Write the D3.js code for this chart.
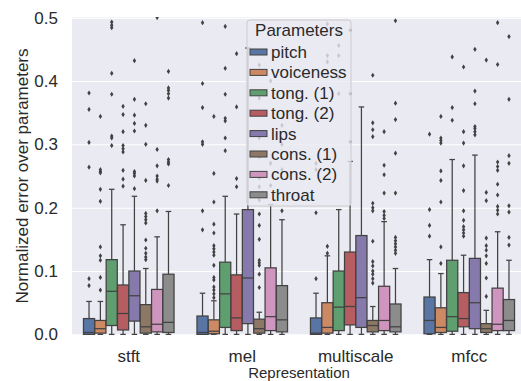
<!DOCTYPE html>
<html><head><meta charset="utf-8">
<script src="https://cdn.jsdelivr.net/npm/d3@7"></script>
<style>body{margin:0;background:#fff}svg{display:block;font-family:"Liberation Sans",Arial,sans-serif}</style>
</head><body><svg id="c" width="521" height="381"></svg>
<script>
const categories = ["stft", "mel", "multiscale", "mfcc"];
const params = ["pitch", "voiceness", "tong. (1)", "tong. (2)", "lips", "cons. (1)", "cons. (2)", "throat"];
const colors = ["#5975A4", "#CC8963", "#5F9E6E", "#B55D60", "#857AAB", "#8D7866", "#D095BF", "#8C8C8C"];
const yTicks = [0.0, 0.1, 0.2, 0.3, 0.4, 0.5];

// rows = representation, columns = parameter
const whiskerLo = [
  [0, 0, 0, 0, 0, 0, 0, 0],
  [0, 0, 0, 0, 0, 0, 0, 0],
  [0, 0, 0, 0, 0, 0, 0, 0],
  [0, 0, 0, 0, 0, 0, 0, 0]
];
const q1 = [
  [0.000, 0.002, 0.014, 0.007, 0.021, 0.002, 0.004, 0.003],
  [0.000, 0.001, 0.011, 0.006, 0.017, 0.002, 0.006, 0.004],
  [0.000, 0.002, 0.006, 0.015, 0.011, 0.004, 0.006, 0.004],
  [0.001, 0.003, 0.005, 0.012, 0.009, 0.003, 0.006, 0.006]
];
const median = [
  [0.003, 0.009, 0.068, 0.033, 0.061, 0.012, 0.016, 0.019],
  [0.003, 0.005, 0.064, 0.026, 0.089, 0.009, 0.028, 0.023],
  [0.002, 0.011, 0.043, 0.044, 0.058, 0.014, 0.022, 0.012],
  [0.022, 0.011, 0.028, 0.025, 0.050, 0.009, 0.016, 0.022]
];
const q3 = [
  [0.025, 0.022, 0.118, 0.078, 0.100, 0.047, 0.071, 0.095],
  [0.029, 0.023, 0.114, 0.094, 0.197, 0.024, 0.105, 0.077],
  [0.026, 0.050, 0.100, 0.130, 0.156, 0.022, 0.076, 0.048],
  [0.059, 0.042, 0.117, 0.066, 0.120, 0.017, 0.073, 0.055]
];
const whiskerHi = [
  [0.052, 0.052, 0.229, 0.173, 0.218, 0.104, 0.154, 0.194],
  [0.065, 0.053, 0.218, 0.190, 0.452, 0.035, 0.205, 0.181],
  [0.065, 0.124, 0.197, 0.273, 0.359, 0.044, 0.178, 0.104],
  [0.118, 0.096, 0.276, 0.125, 0.283, 0.038, 0.162, 0.117]
];
const outliersStft = [
  [0.077, 0.088, 0.264, 0.303, 0.355, 0.381],
  [0.070, 0.090, 0.117, 0.124, 0.138, 0.210, 0.229, 0.255, 0.257, 0.260, 0.344],
  [0.298, 0.310, 0.313, 0.379, 0.412, 0.484, 0.488, 0.493],
  [0.234, 0.245, 0.259, 0.288, 0.293, 0.298, 0.320, 0.347, 0.360],
  [0.230, 0.250, 0.254, 0.257, 0.321, 0.333, 0.346, 0.371, 0.432],
  [0.118, 0.122, 0.128, 0.136, 0.149, 0.176, 0.181, 0.186, 0.191, 0.243, 0.300, 0.330, 0.364],
  [0.195, 0.242, 0.245, 0.250, 0.266, 0.292, 0.500],
  [0.235, 0.269, 0.272, 0.276, 0.373, 0.380, 0.385, 0.389, 0.415]
];
const outliersMel = [
  [0.165, 0.195, 0.300, 0.304, 0.358, 0.396, 0.492],
  [0.058, 0.064, 0.070, 0.075, 0.086, 0.090, 0.109, 0.125, 0.130, 0.135, 0.140, 0.160, 0.174, 0.209, 0.254, 0.344],
  [0.290, 0.310, 0.337, 0.341, 0.379, 0.420, 0.486],
  [0.233, 0.246, 0.359, 0.443],
  [],
  [0.074, 0.095, 0.109, 0.113, 0.117, 0.150, 0.172, 0.190, 0.212, 0.233, 0.247, 0.280, 0.310, 0.373, 0.425],
  [0.235, 0.270, 0.400],
  [0.195, 0.260, 0.300, 0.330]
];
const outliersMultiscale = [
  [0.088, 0.192, 0.260, 0.270],
  [0.128, 0.139, 0.430, 0.440, 0.490],
  [0.380, 0.406, 0.440, 0.456, 0.475],
  [0.304, 0.380, 0.480],
  [],
  [0.081, 0.088, 0.095, 0.100, 0.108, 0.115, 0.147, 0.195, 0.200, 0.207, 0.312, 0.323, 0.334, 0.409],
  [0.183, 0.188, 0.194, 0.223, 0.252, 0.267, 0.320],
  [0.128, 0.133, 0.138, 0.143, 0.148, 0.153, 0.223, 0.286, 0.339, 0.365, 0.495]
];
const outliersMfcc = [
  [0.155, 0.172, 0.197, 0.316],
  [0.112, 0.138, 0.209, 0.243, 0.258, 0.302, 0.306, 0.310, 0.344],
  [0.338, 0.358, 0.438],
  [0.155, 0.160, 0.165, 0.170, 0.180, 0.195, 0.227, 0.266, 0.302, 0.320, 0.422],
  [0.315, 0.320, 0.325, 0.328, 0.364, 0.384, 0.450],
  [0.060, 0.089, 0.112, 0.124, 0.133, 0.140, 0.152, 0.211, 0.224, 0.433],
  [0.190, 0.196, 0.202, 0.220, 0.237, 0.259, 0.265, 0.272, 0.426, 0.492],
  [0.141, 0.153, 0.193, 0.203, 0.270, 0.282, 0.371, 0.470]
];
const outliers = [outliersStft, outliersMel, outliersMultiscale, outliersMfcc];

const svg = d3.select("#c");
const m = {left: 72, top: 17, right: 526, bottom: 335};
const x = d3.scaleBand().domain(categories).range([m.left, m.right]).padding(0);
const bw = x.bandwidth();
const hue = d3.scaleBand().domain(params).range([-0.4 * bw, 0.4 * bw]).padding(0);
const y = d3.scaleLinear().domain([0, 0.5]).range([m.bottom - 0.6, m.top + 0.6]);
const lineC = "#424242";
const txtC = "#2a2a2a";
const FF = "Liberation Sans, Arial, sans-serif";

svg.append("defs").append("clipPath").attr("id", "clip")
  .append("rect").attr("x", m.left).attr("y", m.top).attr("width", m.right - m.left).attr("height", m.bottom - m.top);

svg.append("rect").attr("x", m.left).attr("y", m.top).attr("width", m.right - m.left).attr("height", m.bottom - m.top).attr("fill", "#EAEAF2");

// grid + y ticks
const yAxis = d3.axisLeft(y).tickValues(yTicks).tickFormat(d3.format(".1f")).tickSize(-(m.right - m.left)).tickPadding(14);
const ga = svg.append("g").attr("transform", `translate(${m.left},0)`).call(yAxis);
ga.select(".domain").remove();
ga.selectAll(".tick line").attr("stroke", "#fff").attr("stroke-width", 1.1);
ga.selectAll(".tick text").attr("fill", txtC).attr("font-size", 17).attr("font-family", FF);

const xAxis = d3.axisBottom(x).tickSize(0).tickPadding(15);
const gx = svg.append("g").attr("transform", `translate(0,${m.bottom})`).call(xAxis);
gx.select(".domain").remove();
gx.selectAll(".tick text").attr("fill", txtC).attr("font-size", 17).attr("font-family", FF);

svg.append("text").attr("x", (m.left + m.right) / 2).attr("y", 378).attr("text-anchor", "middle")
  .attr("font-size", 15).attr("fill", txtC).text("Representation");
svg.append("text").attr("transform", `translate(22,${(m.top + m.bottom) / 2}) rotate(-90)`).attr("text-anchor", "middle")
  .attr("dy", "0.35em").attr("font-size", 17).attr("fill", txtC).text("Normalized error over parameters");

const plot = svg.append("g").attr("clip-path", "url(#clip)");
const boxW = hue.bandwidth() * 0.98;
const capW = boxW / 2;
const lw = 1.25;

categories.forEach((cat, ci) => {
  params.forEach((p, pi) => {
    const cx = x(cat) + bw / 2 + hue(p) + hue.bandwidth() / 2;
    const g = plot.append("g");
    g.append("line").attr("x1", cx).attr("x2", cx).attr("y1", y(q3[ci][pi])).attr("y2", y(whiskerHi[ci][pi])).attr("stroke", lineC).attr("stroke-width", lw);
    g.append("line").attr("x1", cx).attr("x2", cx).attr("y1", y(q1[ci][pi])).attr("y2", y(whiskerLo[ci][pi])).attr("stroke", lineC).attr("stroke-width", lw);
    g.append("line").attr("x1", cx - capW / 2).attr("x2", cx + capW / 2).attr("y1", y(whiskerHi[ci][pi])).attr("y2", y(whiskerHi[ci][pi])).attr("stroke", lineC).attr("stroke-width", lw);
    g.append("line").attr("x1", cx - capW / 2).attr("x2", cx + capW / 2).attr("y1", y(whiskerLo[ci][pi])).attr("y2", y(whiskerLo[ci][pi])).attr("stroke", lineC).attr("stroke-width", lw);
    g.append("rect").attr("x", cx - boxW / 2).attr("width", boxW)
      .attr("y", y(q3[ci][pi])).attr("height", Math.max(0, y(q1[ci][pi]) - y(q3[ci][pi])))
      .attr("fill", colors[pi]).attr("stroke", lineC).attr("stroke-width", lw);
    g.append("line").attr("x1", cx - boxW / 2).attr("x2", cx + boxW / 2).attr("y1", y(median[ci][pi])).attr("y2", y(median[ci][pi])).attr("stroke", lineC).attr("stroke-width", lw);
    g.selectAll("path.fl").data(outliers[ci][pi]).join("path").attr("class", "fl")
      .attr("d", d => { const yy = y(d); return `M${cx},${yy - 2.6}L${cx + 1.7},${yy}L${cx},${yy + 2.6}L${cx - 1.7},${yy}Z`; })
      .attr("fill", lineC);
  });
});

// legend
const lg = svg.append("g");
const lx = 247, ly = 20, lwid = 104, lh = 186;
lg.append("rect").attr("x", lx).attr("y", ly).attr("width", lwid).attr("height", lh).attr("rx", 3)
  .attr("fill", "rgba(234,234,242,0.8)").attr("stroke", "#cccccc").attr("stroke-width", 1);
lg.append("text").attr("x", lx + lwid / 2).attr("y", 36).attr("text-anchor", "middle").attr("font-size", 17).attr("fill", txtC).text("Parameters");
params.forEach((p, i) => {
  const cy = 52 + i * 20.4;
  lg.append("rect").attr("x", 250).attr("y", cy - 3).attr("width", 17).attr("height", 6)
    .attr("fill", colors[i]).attr("stroke", lineC).attr("stroke-width", 1);
  lg.append("text").attr("x", 271).attr("y", cy).attr("dy", "0.35em").attr("font-size", 17).attr("fill", txtC).text(p);
});
</script></body></html>
